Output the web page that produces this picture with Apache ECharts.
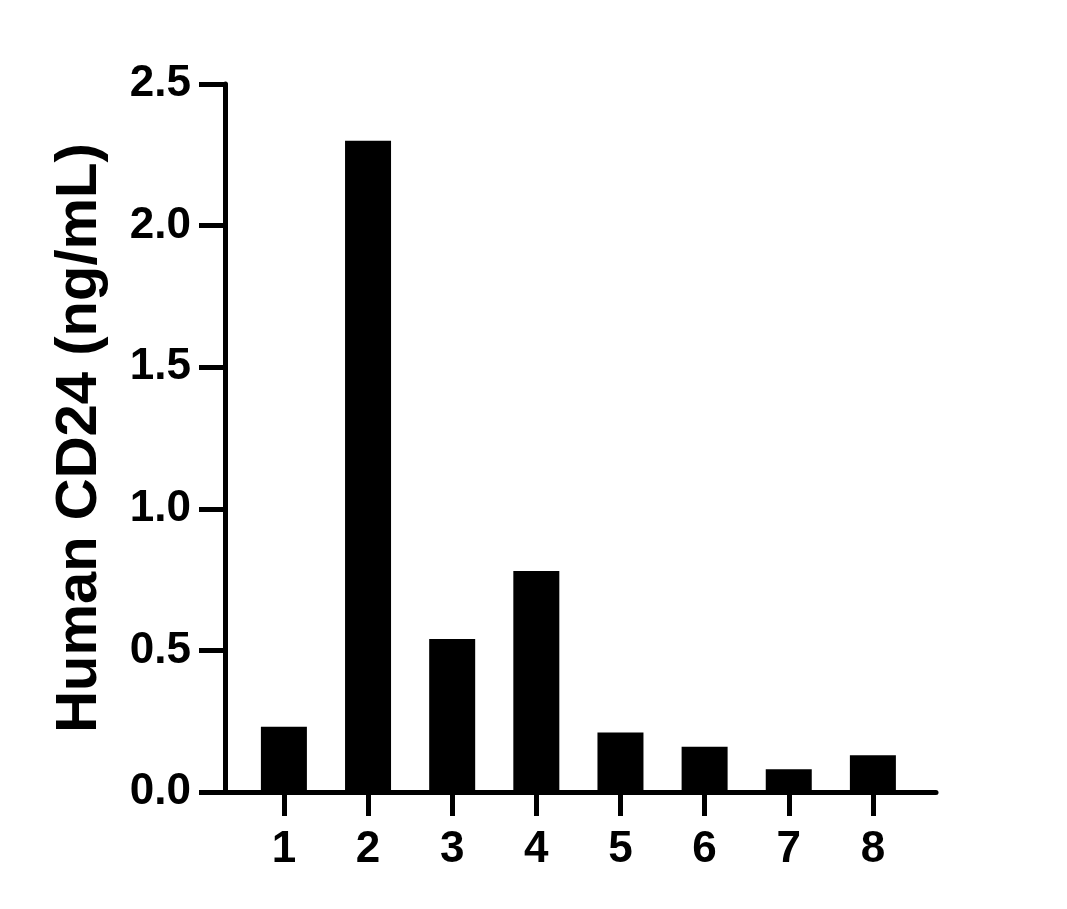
<!DOCTYPE html>
<html>
<head>
<meta charset="utf-8">
<script src="https://cdn.jsdelivr.net/npm/echarts@6/dist/echarts.min.js"></script>
<style>
  html, body { margin: 0; padding: 0; background: #fff; }
  #chart { width: 1067px; height: 909px; }
</style>
</head>
<body>
<div id="chart"></div>
<script>
// sample numbers on the x axis
var categories = [1, 2, 3, 4, 5, 6, 7, 8];
// Human CD24 concentration, ng/mL
var values = [0.23, 2.30, 0.54, 0.78, 0.21, 0.16, 0.08, 0.13];

var chart = echarts.init(document.getElementById('chart'));

var font = 'Liberation Sans, Arial, Helvetica, sans-serif';

var option = {
    backgroundColor: '#fff',
    animation: false,
    grid: {
        left: 225,
        right: 131,
        top: 84,
        bottom: 117
    },
    xAxis: {
        type: 'value',
        min: 0.3,
        max: 8.75,
        splitLine: { show: false },
        axisLine: {
            show: true,
            lineStyle: { color: '#000', width: 5 }
        },
        axisTick: {
            show: true,
            length: 24,
            customValues: categories,
            lineStyle: { color: '#000', width: 5 }
        },
        axisLabel: {
            customValues: categories,
            margin: 36,
            color: '#000',
            fontFamily: font,
            fontWeight: 'bold',
            fontSize: 44,
            formatter: function (v) { return String(v); }
        }
    },
    yAxis: {
        type: 'value',
        min: 0,
        max: 2.5,
        interval: 0.5,
        name: 'Human CD24 (ng/mL)',
        nameLocation: 'middle',
        nameGap: 116,
        nameTextStyle: {
            color: '#000',
            fontFamily: font,
            fontWeight: 'bold',
            fontSize: 58
        },
        splitLine: { show: false },
        axisLine: {
            show: true,
            lineStyle: { color: '#000', width: 5 }
        },
        axisTick: {
            show: true,
            length: 26,
            lineStyle: { color: '#000', width: 5 }
        },
        axisLabel: {
            margin: 34,
            color: '#000',
            fontFamily: font,
            fontWeight: 'bold',
            fontSize: 44,
            formatter: function (v) { return v.toFixed(1); }
        }
    },
    series: [{
        type: 'bar',
        barWidth: 46,
        itemStyle: { color: '#000' },
        data: categories.map(function (c, i) { return [c, values[i]]; })
    }]
};

chart.setOption(option);
</script>
</body>
</html>
